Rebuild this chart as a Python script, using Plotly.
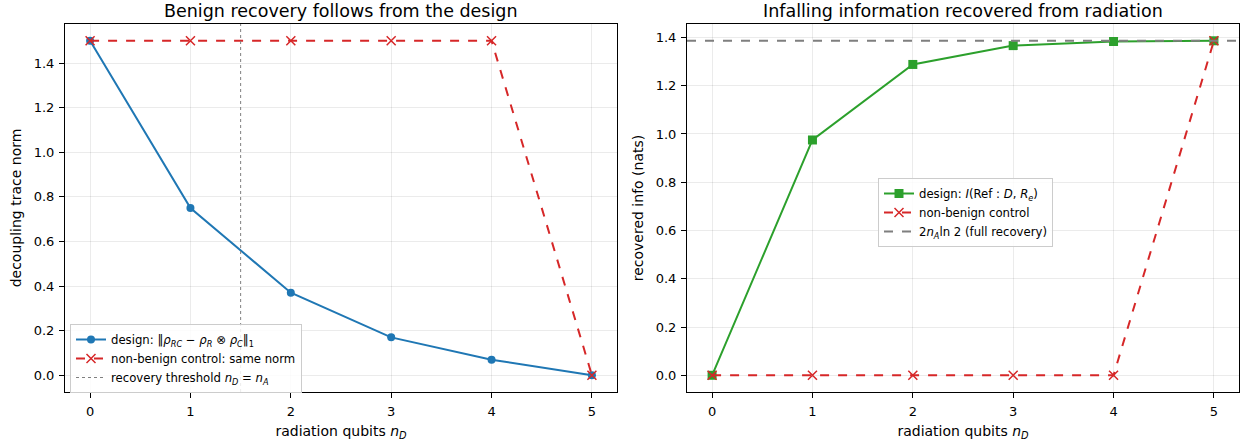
import plotly.graph_objects as go
from plotly.subplots import make_subplots

n_D = [0, 1, 2, 3, 4, 5]
design_norm = [1.5, 0.75, 0.37, 0.17, 0.07, 0.0]
control_norm = [1.5, 1.5, 1.5, 1.5, 1.5, 0.0]
threshold = 1.5
design_info = [0.0, 0.975, 1.288, 1.366, 1.383, 1.386]
control_info = [0.0, 0.0, 0.0, 0.0, 0.0, 1.386]
full_recovery = 1.3863
x_ticks = [0, 1, 2, 3, 4, 5]
y_ticks = [0.0, 0.2, 0.4, 0.6, 0.8, 1.0, 1.2, 1.4]

BLUE = "#1f77b4"
RED = "#d62728"
GREEN = "#2ca02c"
GRAY = "#7f7f7f"
FONT = "DejaVu Sans"

W, H = 1247, 442
L, R, T, B = 65, 8, 24, 50
pw = W - L - R
ph = H - T - B
gap = 70

fig = make_subplots(rows=1, cols=2, horizontal_spacing=gap / pw,
                    subplot_titles=("Benign recovery follows from the design",
                                    "Infalling information recovered from radiation"))

fig.add_trace(go.Scatter(x=n_D, y=design_norm, mode="lines+markers",
                         line=dict(color=BLUE, width=2), marker=dict(symbol="circle", size=8, color=BLUE),
                         name="design: ‖<i>ρ</i><sub><i>RC</i></sub> − <i>ρ</i><sub><i>R</i></sub> ⊗ <i>ρ</i><sub><i>C</i></sub>‖<sub>1</sub>",
                         legend="legend"), row=1, col=1)
fig.add_trace(go.Scatter(x=n_D, y=control_norm, mode="lines+markers",
                         line=dict(color=RED, width=2, dash="dash"),
                         marker=dict(symbol="x-thin", size=9, color=RED, line=dict(color=RED, width=1.5)),
                         name="non-benign control: same norm", legend="legend"), row=1, col=1)
fig.add_trace(go.Scatter(x=[threshold, threshold], y=[-0.075, 1.575], mode="lines",
                         line=dict(color=GRAY, width=1, dash="dot"),
                         name="recovery threshold <i>n</i><sub><i>D</i></sub> = <i>n</i><sub><i>A</i></sub>",
                         legend="legend"), row=1, col=1)

fig.add_trace(go.Scatter(x=n_D, y=design_info, mode="lines+markers",
                         line=dict(color=GREEN, width=2), marker=dict(symbol="square", size=9, color=GREEN),
                         name="design: <i>I</i>(Ref : <i>D</i>, <i>R</i><sub><i>e</i></sub>)",
                         legend="legend2"), row=1, col=2)
fig.add_trace(go.Scatter(x=n_D, y=control_info, mode="lines+markers",
                         line=dict(color=RED, width=2, dash="dash"),
                         marker=dict(symbol="x-thin", size=9, color=RED, line=dict(color=RED, width=1.5)),
                         name="non-benign control", legend="legend2"), row=1, col=2)
fig.add_trace(go.Scatter(x=[-0.25, 5.25], y=[full_recovery, full_recovery], mode="lines",
                         line=dict(color=GRAY, width=2, dash="dash"),
                         name="2<i>n</i><sub><i>A</i></sub>ln 2 (full recovery)",
                         legend="legend2"), row=1, col=2)

axis_common = dict(showline=True, linecolor="black", linewidth=1, mirror=True,
                   showgrid=True, gridcolor="rgba(0,0,0,0.08)", gridwidth=1,
                   ticks="outside", ticklen=5, tickcolor="black", automargin=False,
                   ticklabelstandoff=2,
                   tickfont=dict(size=13, color="black", family=FONT), zeroline=False)
title_font = dict(size=14, color="black", family=FONT)

for c in (1, 2):
    fig.update_xaxes(range=[-0.25, 5.25], tickvals=x_ticks,
                     title=dict(text="radiation qubits <i>n</i><sub><i>D</i></sub>",
                                font=title_font, standoff=8),
                     row=1, col=c, **axis_common)
fig.update_yaxes(range=[-0.075, 1.575], tickvals=y_ticks, tickformat=".1f",
                 title=dict(text="decoupling trace norm", font=title_font, standoff=8),
                 row=1, col=1, **axis_common)
fig.update_yaxes(range=[-0.0693, 1.4556], tickvals=y_ticks, tickformat=".1f",
                 title=dict(text="recovered info (nats)", font=title_font, standoff=8),
                 row=1, col=2, **axis_common)

for ann in fig.layout.annotations:
    ann.font = dict(size=17.5, color="black", family=FONT)
    ann.y = 1.0
    ann.yanchor = "bottom"
    ann.yshift = 1

legend_common = dict(bgcolor="rgba(255,255,255,0.85)", bordercolor="#cccccc", borderwidth=1,
                     font=dict(size=11.7, color="black", family=FONT), tracegroupgap=0,
                     xanchor="left", yanchor="top")
fig.update_layout(
    width=W, height=H,
    margin=dict(l=L, r=R, t=T, b=B, autoexpand=False),
    paper_bgcolor="white", plot_bgcolor="white",
    font=dict(family=FONT, color="black"),
    legend=dict(x=(70 - L) / pw, y=(H - B - 324) / ph, **legend_common),
    legend2=dict(x=(878 - L) / pw, y=(H - B - 178) / ph, **legend_common),
)

fig.write_html("out.html", config={"displayModeBar": False},
               post_script="document.body.style.margin='0';document.body.style.overflow='hidden';")
